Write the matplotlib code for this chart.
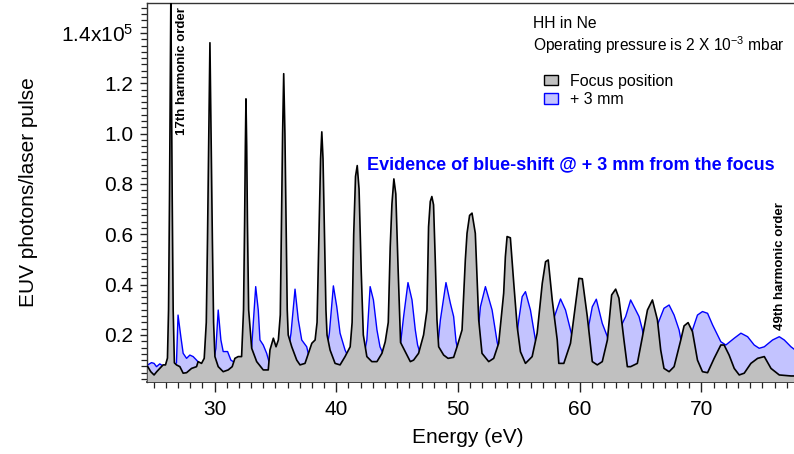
import matplotlib
matplotlib.use("Agg")
import matplotlib.pyplot as plt
import matplotlib.ticker as mticker
from matplotlib.patches import Patch

plt.rcParams.update({
    "font.family": "Liberation Sans",
    "mathtext.fontset": "custom",
    "mathtext.rm": "Liberation Sans",
    "mathtext.it": "Liberation Sans:italic",
    "mathtext.bf": "Liberation Sans:bold",
})

# HH spectrum in Ne, yield in units of 1e5 photons / laser pulse
focus_energy = [
    24.51, 24.76, 25.03, 25.25, 25.50, 25.77, 25.97, 26.13, 26.22, 26.30,
    26.36, 26.41, 26.46, 26.52, 26.60, 26.70, 26.87, 27.15, 27.42, 27.70,
    28.11, 28.52, 28.65, 28.93, 29.15, 29.32, 29.42, 29.53, 29.62, 29.71,
    29.82, 29.92, 30.03, 30.30, 30.71, 31.12, 31.45, 31.67, 31.94, 32.22,
    32.38, 32.47, 32.53, 32.58, 32.64, 32.70, 32.80, 33.05, 33.46, 34.00,
    34.41, 34.55, 34.83, 35.05, 35.24, 35.40, 35.48, 35.59, 35.68, 35.78,
    35.89, 35.97, 36.05, 36.34, 36.75, 37.02, 37.43, 37.71, 37.99, 38.26,
    38.42, 38.57, 38.71, 38.81, 38.91, 39.04, 39.15, 39.24, 39.49, 39.90,
    40.31, 40.72, 41.14, 41.30, 41.43, 41.58, 41.72, 41.87, 42.05, 42.22,
    42.51, 42.92, 43.34, 43.75, 44.02, 44.27, 44.43, 44.57, 44.73, 44.89,
    45.08, 45.28, 45.66, 46.08, 46.35, 46.76, 47.17, 47.45, 47.58, 47.72,
    47.85, 47.99, 48.13, 48.27, 48.41, 48.82, 49.18, 49.64, 49.92, 50.33,
    50.60, 50.74, 50.95, 51.15, 51.42, 51.56, 51.70, 51.97, 52.52, 52.93,
    53.34, 53.75, 53.89, 54.03, 54.30, 54.58, 54.86, 55.13, 55.54, 56.09,
    56.50, 56.92, 57.19, 57.41, 57.74, 58.15, 58.28, 58.69, 59.24, 59.66,
    59.93, 60.21, 60.62, 61.03, 61.44, 61.85, 62.27, 62.62, 62.95, 63.22,
    63.63, 63.91, 64.18, 64.73, 65.15, 65.56, 65.97, 66.38, 66.65, 66.92,
    67.34, 67.75, 68.30, 68.57, 68.90, 69.26, 69.67, 70.08, 70.50, 71.04,
    71.59, 71.86, 72.27, 72.69, 73.10, 73.51, 74.06, 74.61, 75.16, 75.71,
    76.39, 77.35, 77.70,
]
focus_yield = [
    0.074, 0.054, 0.041, 0.054, 0.067, 0.081, 0.081, 0.108, 0.300, 0.750,
    1.200, 1.550, 1.200, 0.750, 0.300, 0.089, 0.081, 0.074, 0.048, 0.050,
    0.067, 0.074, 0.094, 0.087, 0.107, 0.250, 0.580, 1.000, 1.361, 1.000,
    0.580, 0.250, 0.114, 0.074, 0.054, 0.061, 0.074, 0.107, 0.114, 0.114,
    0.300, 0.650, 0.950, 1.138, 0.950, 0.650, 0.300, 0.147, 0.094, 0.061,
    0.061, 0.140, 0.187, 0.153, 0.180, 0.280, 0.580, 1.000, 1.238, 1.000,
    0.580, 0.300, 0.200, 0.153, 0.100, 0.081, 0.087, 0.127, 0.167, 0.180,
    0.250, 0.580, 0.900, 1.007, 0.900, 0.580, 0.300, 0.200, 0.140, 0.087,
    0.081, 0.114, 0.153, 0.250, 0.600, 0.830, 0.873, 0.780, 0.450, 0.200,
    0.114, 0.094, 0.094, 0.127, 0.173, 0.250, 0.550, 0.720, 0.820, 0.760,
    0.460, 0.170, 0.134, 0.094, 0.100, 0.127, 0.200, 0.299, 0.630, 0.730,
    0.750, 0.717, 0.498, 0.260, 0.153, 0.120, 0.107, 0.111, 0.153, 0.220,
    0.498, 0.604, 0.675, 0.684, 0.604, 0.432, 0.260, 0.127, 0.094, 0.107,
    0.167, 0.366, 0.511, 0.591, 0.586, 0.405, 0.233, 0.133, 0.087, 0.114,
    0.207, 0.405, 0.491, 0.498, 0.339, 0.180, 0.087, 0.087, 0.167, 0.326,
    0.425, 0.423, 0.273, 0.094, 0.081, 0.094, 0.180, 0.359, 0.382, 0.346,
    0.180, 0.074, 0.074, 0.087, 0.193, 0.299, 0.339, 0.260, 0.140, 0.067,
    0.054, 0.074, 0.180, 0.236, 0.249, 0.213, 0.100, 0.054, 0.050, 0.107,
    0.160, 0.160, 0.120, 0.067, 0.041, 0.048, 0.087, 0.107, 0.114, 0.067,
    0.041, 0.037, 0.037,
]

plus3_energy = [
    24.51, 24.82, 25.03, 25.23, 25.50, 25.75, 26.16, 26.87, 27.00, 27.23,
    27.42, 27.70, 27.97, 28.24, 28.52, 29.20, 29.78, 30.11, 30.30, 30.52,
    30.71, 31.07, 31.34, 31.53, 32.08, 32.74, 33.05, 33.38, 33.59, 33.73,
    34.00, 34.28, 34.47, 35.21, 35.87, 36.28, 36.61, 36.88, 37.16, 37.57,
    37.76, 38.26, 39.00, 39.43, 39.76, 40.04, 40.31, 40.72, 41.30, 42.13,
    42.51, 42.78, 43.05, 43.34, 43.59, 44.26, 45.08, 45.53, 45.89, 46.22,
    46.49, 46.68, 47.31, 48.14, 48.55, 49.01, 49.37, 49.64, 49.84, 50.36,
    51.35, 51.84, 52.25, 52.80, 53.21, 53.73, 54.47, 54.99, 55.27, 55.54,
    55.95, 56.36, 56.94, 57.60, 57.87, 58.42, 58.83, 59.38, 59.82, 60.40,
    60.75, 61.03, 61.36, 61.85, 62.27, 62.78, 63.20, 63.50, 63.77, 64.18,
    64.87, 65.15, 65.66, 66.16, 66.38, 66.92, 67.34, 67.75, 68.16, 68.63,
    69.04, 69.26, 69.67, 70.08, 70.50, 70.91, 71.59, 72.00, 72.69, 73.24,
    73.79, 74.33, 74.74, 75.16, 75.84, 76.39, 76.80, 77.35, 77.70,
]
plus3_yield = [
    0.081, 0.090, 0.087, 0.074, 0.085, 0.077, 0.061, 0.089, 0.279, 0.193,
    0.127, 0.107, 0.120, 0.114, 0.100, 0.061, 0.061, 0.147, 0.299, 0.180,
    0.134, 0.134, 0.100, 0.094, 0.081, 0.081, 0.153, 0.392, 0.299, 0.180,
    0.160, 0.127, 0.094, 0.081, 0.081, 0.207, 0.382, 0.260, 0.180, 0.153,
    0.114, 0.081, 0.081, 0.207, 0.395, 0.312, 0.207, 0.140, 0.081, 0.081,
    0.180, 0.392, 0.339, 0.220, 0.153, 0.081, 0.081, 0.273, 0.408, 0.339,
    0.220, 0.160, 0.061, 0.061, 0.260, 0.408, 0.326, 0.273, 0.173, 0.061,
    0.061, 0.312, 0.392, 0.299, 0.173, 0.061, 0.061, 0.260, 0.352, 0.372,
    0.299, 0.180, 0.061, 0.061, 0.266, 0.343, 0.299, 0.193, 0.061, 0.061,
    0.240, 0.312, 0.342, 0.246, 0.193, 0.061, 0.061, 0.246, 0.273, 0.339,
    0.273, 0.220, 0.081, 0.081, 0.240, 0.306, 0.319, 0.279, 0.220, 0.100,
    0.100, 0.220, 0.279, 0.293, 0.286, 0.240, 0.173, 0.160, 0.187, 0.207,
    0.193, 0.160, 0.147, 0.153, 0.180, 0.193, 0.180, 0.153, 0.140,
]

major_y = [0.2, 0.4, 0.6, 0.8, 1.0, 1.2, 1.4]
major_x = [30, 40, 50, 60, 70]

GRAY_FILL = "#c0c0c0"
BLUE_FILL = "#c3c3ff"
BLUE_LINE = "#0000ff"


def ytick_fmt(v, pos):
    if abs(v - 1.4) < 1e-6:
        return "1.4x10$^{5}$"
    return f"{v:.1f}"


fig = plt.figure(figsize=(7.94, 4.54), dpi=100)
ax = fig.add_axes([147 / 794, 72.5 / 454, 647 / 794, 378.5 / 454])

ax.fill_between(plus3_energy, 0, plus3_yield, facecolor=BLUE_FILL,
                edgecolor="none", zorder=1)
ax.plot(plus3_energy, plus3_yield, color=BLUE_LINE, lw=1.0, zorder=2)
ax.fill_between(focus_energy, 0, focus_yield, facecolor=GRAY_FILL,
                edgecolor="none", zorder=3)
ax.plot(focus_energy, focus_yield, color="black", lw=1.2, zorder=4)

ax.set_xlim(24.45, 77.6)
ax.set_ylim(0.015, 1.519)

ax.xaxis.set_major_locator(mticker.FixedLocator(major_x))
ax.xaxis.set_minor_locator(mticker.MultipleLocator(1))
ax.yaxis.set_major_locator(mticker.FixedLocator(major_y))
ax.yaxis.set_minor_locator(mticker.MultipleLocator(0.025))
ax.yaxis.set_major_formatter(mticker.FuncFormatter(ytick_fmt))

ax.tick_params(axis="both", which="major", direction="out", labelsize=15,
               width=1.0, color="#222222")
ax.tick_params(axis="x", which="major", length=7, pad=6)
ax.tick_params(axis="y", which="major", length=5, pad=5)
ax.tick_params(axis="both", which="minor", direction="out", length=4,
               width=0.9, color="#222222")

ax.spines["right"].set_visible(False)
for s in ("left", "bottom", "top"):
    ax.spines[s].set_color("#333333")
    ax.spines[s].set_linewidth(1.0)
ax.spines["bottom"].set_linewidth(1.3)

ax.set_xlabel("Energy (eV)", fontsize=15)
ax.xaxis.set_label_coords(0.496, -0.148)
ax.xaxis.label.set_va("center")
ax.set_ylabel("EUV photons/laser pulse", fontsize=15)
ax.yaxis.set_label_coords(-0.183, 0.5)
ax.yaxis.label.set_va("center")

fig.text(182 / 794, 1 - 7 / 454, "17th harmonic order", rotation=90,
         ha="center", va="top", fontsize=9.5, fontweight="bold")
fig.text(780 / 794, 1 - 330 / 454, "49th harmonic order", rotation=90,
         ha="center", va="bottom", fontsize=9.5, fontweight="bold")
fig.text(533 / 794, 1 - 23 / 454, "HH in Ne", ha="left", va="center",
         fontsize=11.3)
fig.text(533 / 794, 1 - 45 / 454,
         "Operating pressure is 2 X 10$^{-3}$ mbar", ha="left", va="center",
         fontsize=11.2)
fig.text(367 / 794, 1 - 165 / 454,
         "Evidence of blue-shift @ + 3 mm from the focus", ha="left",
         va="center", fontsize=13, fontweight="bold", color=BLUE_LINE)

handles = [
    Patch(facecolor=GRAY_FILL, edgecolor="black", linewidth=1.0,
          label="Focus position"),
    Patch(facecolor=BLUE_FILL, edgecolor=BLUE_LINE, linewidth=1.0,
          label="+ 3 mm"),
]
fig.legend(handles=handles, loc="upper left",
           bbox_to_anchor=(544 / 794, 1 - 74 / 454),
           bbox_transform=fig.transFigure, frameon=False, fontsize=11.5,
           handlelength=0.9, handleheight=0.6, handletextpad=0.7,
           labelspacing=0.2, borderpad=0, borderaxespad=0)

fig.savefig("out.png", dpi=100)
